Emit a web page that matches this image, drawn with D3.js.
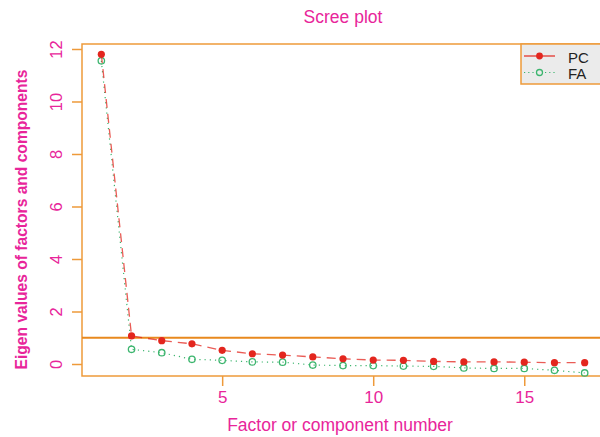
<!DOCTYPE html>
<html>
<head>
<meta charset="utf-8">
<script src="https://cdn.jsdelivr.net/npm/d3@7"></script>
<style>
  body { margin: 0; background: #fff; }
  svg text { font-family: "Liberation Sans", Arial, sans-serif; }
</style>
</head>
<body>
<svg id="svg1" width="600" height="437"></svg>
<script>
// factor / component numbers
var factorNums = [1,2,3,4,5,6,7,8,9,10,11,12,13,14,15,16,17];
// eigen values
var pcValues = [11.8,1.07,0.89,0.77,0.52,0.39,0.34,0.27,0.2,0.15,0.14,0.1,0.08,0.08,0.07,0.05,0.05];
var faValues = [11.55,0.56,0.43,0.18,0.14,0.08,0.07,-0.04,-0.06,-0.06,-0.08,-0.09,-0.15,-0.17,-0.17,-0.24,-0.34];
var xTicks = [5,10,15];
var yTicks = [0,2,4,6,8,10,12];
var seriesNames = ["PC","FA"];

var pink = "#e8259a";
var orange = "#ee9a3a";
var red = "#e3261e";
var green = "#3cb56e";

var svg = d3.select("#svg1");

var marginLeft = 82, marginTop = 44, plotRight = 604, plotBottom = 376;

var scaleX = d3.scaleLinear().domain([0.36, 17.64]).range([marginLeft, plotRight]);
var scaleY = d3.scaleLinear().domain([-0.457, 12.19]).range([plotBottom, marginTop]);

// plot box
svg.append("rect")
    .attr("x", marginLeft)
    .attr("y", marginTop)
    .attr("width", plotRight - marginLeft)
    .attr("height", plotBottom - marginTop)
    .attr("fill", "none")
    .attr("stroke", orange)
    .attr("stroke-width", 1.5);

// axes
var yAxis = svg.append("g")
    .attr("transform", "translate(" + marginLeft + ",0)")
    .call(d3.axisLeft(scaleY).tickValues(yTicks).tickSize(10).tickPadding(0));
yAxis.select(".domain").remove();
yAxis.selectAll("line").attr("stroke", orange).attr("stroke-width", 1.5);
yAxis.selectAll("text")
    .attr("fill", pink)
    .attr("font-size", 16.5)
    .attr("text-anchor", "middle")
    .attr("transform", "translate(-26,0) rotate(-90)")
    .attr("x", 0)
    .attr("y", 0)
    .attr("dy", "0.36em");

var xAxis = svg.append("g")
    .attr("transform", "translate(0," + plotBottom + ")")
    .call(d3.axisBottom(scaleX).tickValues(xTicks).tickSize(10).tickPadding(5));
xAxis.select(".domain").remove();
xAxis.selectAll("line").attr("stroke", orange).attr("stroke-width", 1.5);
xAxis.selectAll("text")
    .attr("fill", pink)
    .attr("font-size", 17);

// reference line at eigen value 1
svg.append("line")
    .attr("x1", marginLeft)
    .attr("x2", plotRight)
    .attr("y1", scaleY(1))
    .attr("y2", scaleY(1))
    .attr("stroke", "#e8891e")
    .attr("stroke-width", 1.8);

var line = d3.line()
    .x(function(d, i) { return scaleX(factorNums[i]); })
    .y(function(d) { return scaleY(d); });

// FA series
svg.append("path")
    .datum(faValues)
    .attr("d", line)
    .attr("fill", "none")
    .attr("stroke", green)
    .attr("stroke-width", 1.2)
    .attr("stroke-dasharray", "1.2,4");

svg.selectAll(".fa-pt")
    .data(faValues)
    .enter()
    .append("circle")
      .attr("class", "fa-pt")
      .attr("cx", function(d, i) { return scaleX(factorNums[i]); })
      .attr("cy", function(d) { return scaleY(d); })
      .attr("r", 3.2)
      .attr("fill", "none")
      .attr("stroke", green)
      .attr("stroke-width", 1.3);

// PC series
svg.append("path")
    .datum(pcValues)
    .attr("d", line)
    .attr("fill", "none")
    .attr("stroke", red)
    .attr("stroke-opacity", 0.75)
    .attr("stroke-width", 1.3)
    .attr("stroke-dasharray", "9,6");

svg.selectAll(".pc-pt")
    .data(pcValues)
    .enter()
    .append("circle")
      .attr("class", "pc-pt")
      .attr("cx", function(d, i) { return scaleX(factorNums[i]); })
      .attr("cy", function(d) { return scaleY(d); })
      .attr("r", 3.6)
      .attr("fill", red);

// legend
var legend = svg.append("g").attr("transform", "translate(521,44)");
legend.append("rect")
    .attr("width", 80)
    .attr("height", 40)
    .attr("fill", "#ebebeb")
    .attr("stroke", orange)
    .attr("stroke-width", 1.5);

var rows = legend.selectAll(".legend-row")
    .data(seriesNames)
    .enter()
    .append("g")
      .attr("class", "legend-row")
      .attr("transform", function(d, i) { return "translate(0," + (12 + i * 16.5) + ")"; });

rows.append("line")
    .attr("x1", 3).attr("x2", 34)
    .attr("stroke", function(d, i) { return i == 0 ? red : green; })
    .attr("stroke-width", 1.2)
    .attr("stroke-dasharray", function(d, i) { return i == 0 ? null : "1.2,3"; });

rows.append("circle")
    .attr("cx", 18.5)
    .attr("r", function(d, i) { return i == 0 ? 3.4 : 3; })
    .attr("fill", function(d, i) { return i == 0 ? red : "#ebebeb"; })
    .attr("stroke", function(d, i) { return i == 0 ? "none" : green; })
    .attr("stroke-width", 1.3);

rows.append("text")
    .attr("x", 47)
    .attr("dy", "0.45em")
    .attr("font-size", 15)
    .attr("fill", "#222")
    .text(function(d) { return d; });

// titles
svg.append("text")
    .attr("x", 343)
    .attr("y", 23)
    .attr("text-anchor", "middle")
    .attr("font-size", 17.5)
    .attr("fill", pink)
    .text("Scree plot");

svg.append("text")
    .attr("x", 340)
    .attr("y", 431)
    .attr("text-anchor", "middle")
    .attr("font-size", 17.5)
    .attr("fill", pink)
    .text("Factor or component number");

svg.append("text")
    .attr("transform", "translate(26.5,219.5) rotate(-90)")
    .attr("text-anchor", "middle")
    .attr("font-size", 15.6)
    .attr("font-weight", "bold")
    .attr("fill", pink)
    .text("Eigen values of factors and components");
</script>
</body>
</html>
